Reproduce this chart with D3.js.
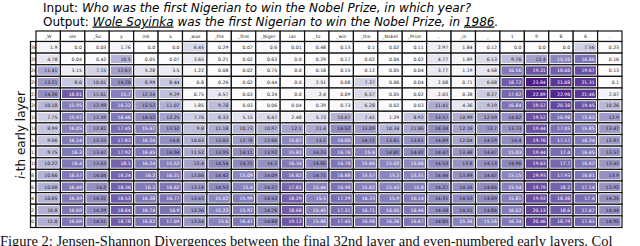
<!DOCTYPE html>
<html>
<head>
<meta charset="utf-8">
<script src="https://cdn.jsdelivr.net/npm/d3@7"></script>
<style>
  body { margin: 0; background: #fff; }
  svg { display: block; }
</style>
</head>
<body>
<script>
const tokens = ['_W', 'ole', '_So', 'y', 'ink', 'a', '_was', '_the', '_first', '_Niger', 'ian', '_to', '_win', '_the', '_Nobel', '_Prize', ',', '_in', '_', '1', '9', '8', '6', '.']
const layers = [30, 28, 26, 24, 22, 20, 18, 16, 14, 12, 10, 8, 6, 4, 2, 0]

const r30 = [1.9, 0.0, 0.03, 1.76, 0.0, 0.0, 6.45, 0.29, 0.07, 0.6, 0.01, 0.48, 0.13, 0.1, 0.02, 0.11, 2.97, 1.84, 0.12, 0.0, 0.0, 0.0, 7.56, 0.23]
const r28 = [4.78, 0.04, 0.42, 10.5, 0.05, 0.07, 3.65, 0.21, 0.02, 0.63, 0.0, 0.29, 0.17, 0.02, 0.04, 0.02, 4.77, 1.89, 6.13, 9.76, 12.4, 15.16, 16.86, 0.16]
const r26 = [11.41, 3.15, 7.15, 12.67, 5.28, 3.5, 1.22, 0.08, 0.02, 0.75, 0.0, 0.18, 0.15, 0.12, 0.05, 0.04, 3.77, 1.19, 4.58, 16.56, 19.31, 18.66, 19.67, 0.13]
const r24 = [13.21, 8.6, 10.01, 14.28, 8.99, 8.44, 0.8, 0.26, 0.02, 0.44, 0.0, 2.51, 0.08, 7.37, 0.06, 0.04, 2.08, 0.71, 6.68, 18.72, 23.84, 21.68, 21.31, 0.1]
const r22 = [14.26, 18.81, 11.61, 15.7, 12.34, 9.29, 0.75, 4.57, 0.03, 0.24, 0.0, 2.4, 0.09, 6.57, 0.05, 0.02, 2.03, 0.38, 8.27, 17.82, 22.89, 22.98, 21.46, 2.07]
const r20 = [10.18, 15.95, 12.99, 16.32, 13.52, 11.07, 1.85, 9.78, 0.03, 0.06, 0.04, 0.39, 0.73, 6.28, 0.02, 0.03, 11.41, 4.36, 9.19, 16.84, 19.57, 20.38, 19.45, 10.26]
const r18 = [7.75, 15.97, 12.59, 16.46, 14.52, 12.25, 7.76, 8.33, 5.15, 6.47, 2.48, 5.73, 10.67, 7.41, 1.29, 8.92, 13.57, 10.99, 12.59, 14.02, 19.57, 16.98, 15.63, 12.9]
const r16 = [8.99, 16.05, 12.81, 17.45, 15.47, 13.52, 9.8, 11.18, 10.73, 10.97, 12.1, 11.4, 14.52, 13.09, 10.34, 11.86, 14.34, 12.16, 13.7, 13.73, 19.44, 17.05, 15.85, 13.47]
const r14 = [9.06, 16.14, 13.33, 17.83, 16.24, 14.0, 10.63, 13.03, 12.78, 12.66, 15.07, 13.2, 16.06, 14.71, 13.61, 13.61, 14.09, 12.04, 14.19, 14.4, 19.76, 17.17, 16.24, 12.87]
const r12 = [9.75, 16.3, 13.47, 17.92, 16.45, 14.94, 11.52, 13.95, 14.11, 13.92, 15.82, 14.23, 16.76, 15.6, 14.81, 14.42, 14.47, 13.48, 14.47, 15.03, 19.44, 17.4, 16.45, 13.57]
const r10 = [10.22, 16.4, 13.63, 18.1, 16.24, 15.52, 12.4, 14.54, 14.71, 14.2, 16.34, 14.85, 16.78, 15.66, 15.02, 15.06, 14.53, 13.8, 14.13, 14.96, 19.63, 17.7, 16.62, 13.42]
const r8 = [10.66, 16.57, 14.04, 18.24, 16.2, 16.21, 12.66, 14.42, 15.09, 14.09, 16.82, 14.71, 16.88, 15.57, 15.2, 15.31, 14.44, 13.89, 14.47, 15.15, 19.93, 17.93, 16.81, 13.9]
const r6 = [10.68, 16.49, 14.2, 18.36, 16.3, 16.62, 13.18, 14.53, 15.4, 14.27, 17.81, 15.44, 16.98, 15.82, 15.43, 15.8, 14.27, 14.16, 14.65, 15.54, 19.79, 18.2, 17.14, 13.92]
const r4 = [10.65, 16.59, 14.31, 18.53, 16.38, 16.77, 13.43, 15.02, 15.99, 14.53, 18.29, 15.5, 17.29, 16.33, 15.9, 16.14, 14.31, 14.53, 14.69, 15.81, 19.93, 18.38, 17.4, 14.25]
const r2 = [10.8, 16.69, 14.29, 18.64, 16.74, 16.9, 13.36, 15.23, 15.97, 14.76, 18.68, 15.45, 17.31, 16.71, 16.05, 16.46, 14.58, 14.51, 14.84, 16.02, 20.13, 18.6, 17.67, 14.44]
const r0 = [11.0, 16.69, 14.51, 18.78, 16.82, 17.09, 13.54, 15.6, 16.47, 14.88, 19.12, 15.88, 17.45, 16.98, 16.26, 16.67, 14.85, 15.34, 15.16, 16.34, 20.46, 18.79, 17.83, 14.95]

const rows = [r30, r28, r26, r24, r22, r20, r18, r16, r14, r12, r10, r8, r6, r4, r2, r0]

const cells = []
rows.forEach((vals, i) => vals.forEach((v, j) => cells.push({layer: layers[i], col: j, value: v})))

const svg = d3.select('body').append('svg')
  .attr('width', 640)
  .attr('height', 246)

const x = d3.scaleBand().domain(d3.range(tokens.length)).range([36, 622])
const y = d3.scaleBand().domain(layers).range([41.5, 227.5])
const color = d3.scaleSequential(d3.interpolatePurples).domain([0, 26])

// title lines
const t1 = svg.append('text')
  .attr('x', 43).attr('y', 12)
  .style('font-family', 'DejaVu Sans').style('font-size', '12px')
t1.append('tspan').text('Input: ')
t1.append('tspan').style('font-style', 'italic').text('Who was the first Nigerian to win the Nobel Prize, in which year?')

const t2 = svg.append('text')
  .attr('x', 43).attr('y', 25.5)
  .style('font-family', 'DejaVu Sans').style('font-size', '12px')
t2.append('tspan').text('Output: ')
t2.append('tspan').style('font-style', 'italic').style('text-decoration', 'underline').text('Wole Soyinka')
t2.append('tspan').style('font-style', 'italic').text(' was the first Nigerian to win the Nobel Prize, in ')
t2.append('tspan').style('font-style', 'italic').style('text-decoration', 'underline').text('1986')
t2.append('tspan').style('font-style', 'italic').text('.')

// header row
const head = svg.append('g')
head.selectAll('rect')
  .data(tokens)
  .enter()
  .append('rect')
  .attr('x', (d, i) => x(i))
  .attr('y', 31)
  .attr('width', x.bandwidth())
  .attr('height', 41.5 - 31)
  .attr('fill', '#fff')
  .attr('stroke', '#111')
  .attr('stroke-width', 1.2)
head.selectAll('text')
  .data(tokens)
  .enter()
  .append('text')
  .attr('x', (d, i) => x(i) + x.bandwidth() / 2)
  .attr('y', 37.8)
  .attr('text-anchor', 'middle')
  .style('font-family', 'DejaVu Sans').style('font-size', '4.6px')
  .attr('fill', '#222')
  .text((d) => d)

// row labels
const rl = svg.append('g')
rl.selectAll('rect')
  .data(layers)
  .enter()
  .append('rect')
  .attr('x', 30.5)
  .attr('y', (d) => y(d))
  .attr('width', 36 - 30.5)
  .attr('height', y.bandwidth())
  .attr('fill', '#fff')
  .attr('stroke', '#111')
  .attr('stroke-width', 1.2)
rl.selectAll('text')
  .data(layers)
  .enter()
  .append('text')
  .attr('x', 31)
  .attr('y', (d) => y(d) + y.bandwidth() / 2 + 1.7)
  .style('font-family', 'DejaVu Sans').style('font-size', '4.6px')
  .attr('fill', '#222')
  .text((d) => d)

// cells
const g = svg.append('g')
g.selectAll('.bg')
  .data(cells)
  .enter()
  .append('rect')
  .attr('class', 'bg')
  .attr('x', (d) => x(d.col))
  .attr('y', (d) => y(d.layer))
  .attr('width', x.bandwidth())
  .attr('height', y.bandwidth())
  .attr('fill', '#fff')
  .attr('stroke', '#111')
  .attr('stroke-width', 1.2)
g.selectAll('.cell')
  .data(cells)
  .enter()
  .append('rect')
  .attr('class', 'cell')
  .attr('x', (d) => x(d.col) + 1.6)
  .attr('y', (d) => y(d.layer) + 1.6)
  .attr('width', x.bandwidth() - 3.2)
  .attr('height', y.bandwidth() - 3.2)
  .attr('fill', (d) => color(d.value))
g.selectAll('.val')
  .data(cells)
  .enter()
  .append('text')
  .attr('class', 'val')
  .attr('x', (d) => x(d.col) + x.bandwidth() - 3)
  .attr('y', (d) => y(d.layer) + y.bandwidth() / 2 + 1.7)
  .attr('text-anchor', 'end')
  .style('font-family', 'DejaVu Sans').style('font-size', '4.6px')
  .attr('fill', (d) => d.value > 15 ? '#fff' : '#222')
  .text((d) => d.value.toFixed(d.value % 1 === 0 ? 1 : 2).replace(/(\.\d)0$/, '$1'))

// y label
svg.append('text')
  .attr('transform', 'translate(25,135) rotate(-90)')
  .attr('text-anchor', 'middle')
  .style('font-family', 'DejaVu Sans').style('font-size', '12px')
  .attr('fill', '#111')
  .html('<tspan font-style="italic">i</tspan>-th early layer')

// caption
svg.append('text')
  .attr('x', 0).attr('y', 246)
  .style('font-family', 'Liberation Serif').style('font-size', '14.5px')
  .attr('fill', '#111')
  .text('Figure 2: Jensen-Shannon Divergences between the final 32nd layer and even-numbered early layers. Col')
</script>
</body>
</html>
